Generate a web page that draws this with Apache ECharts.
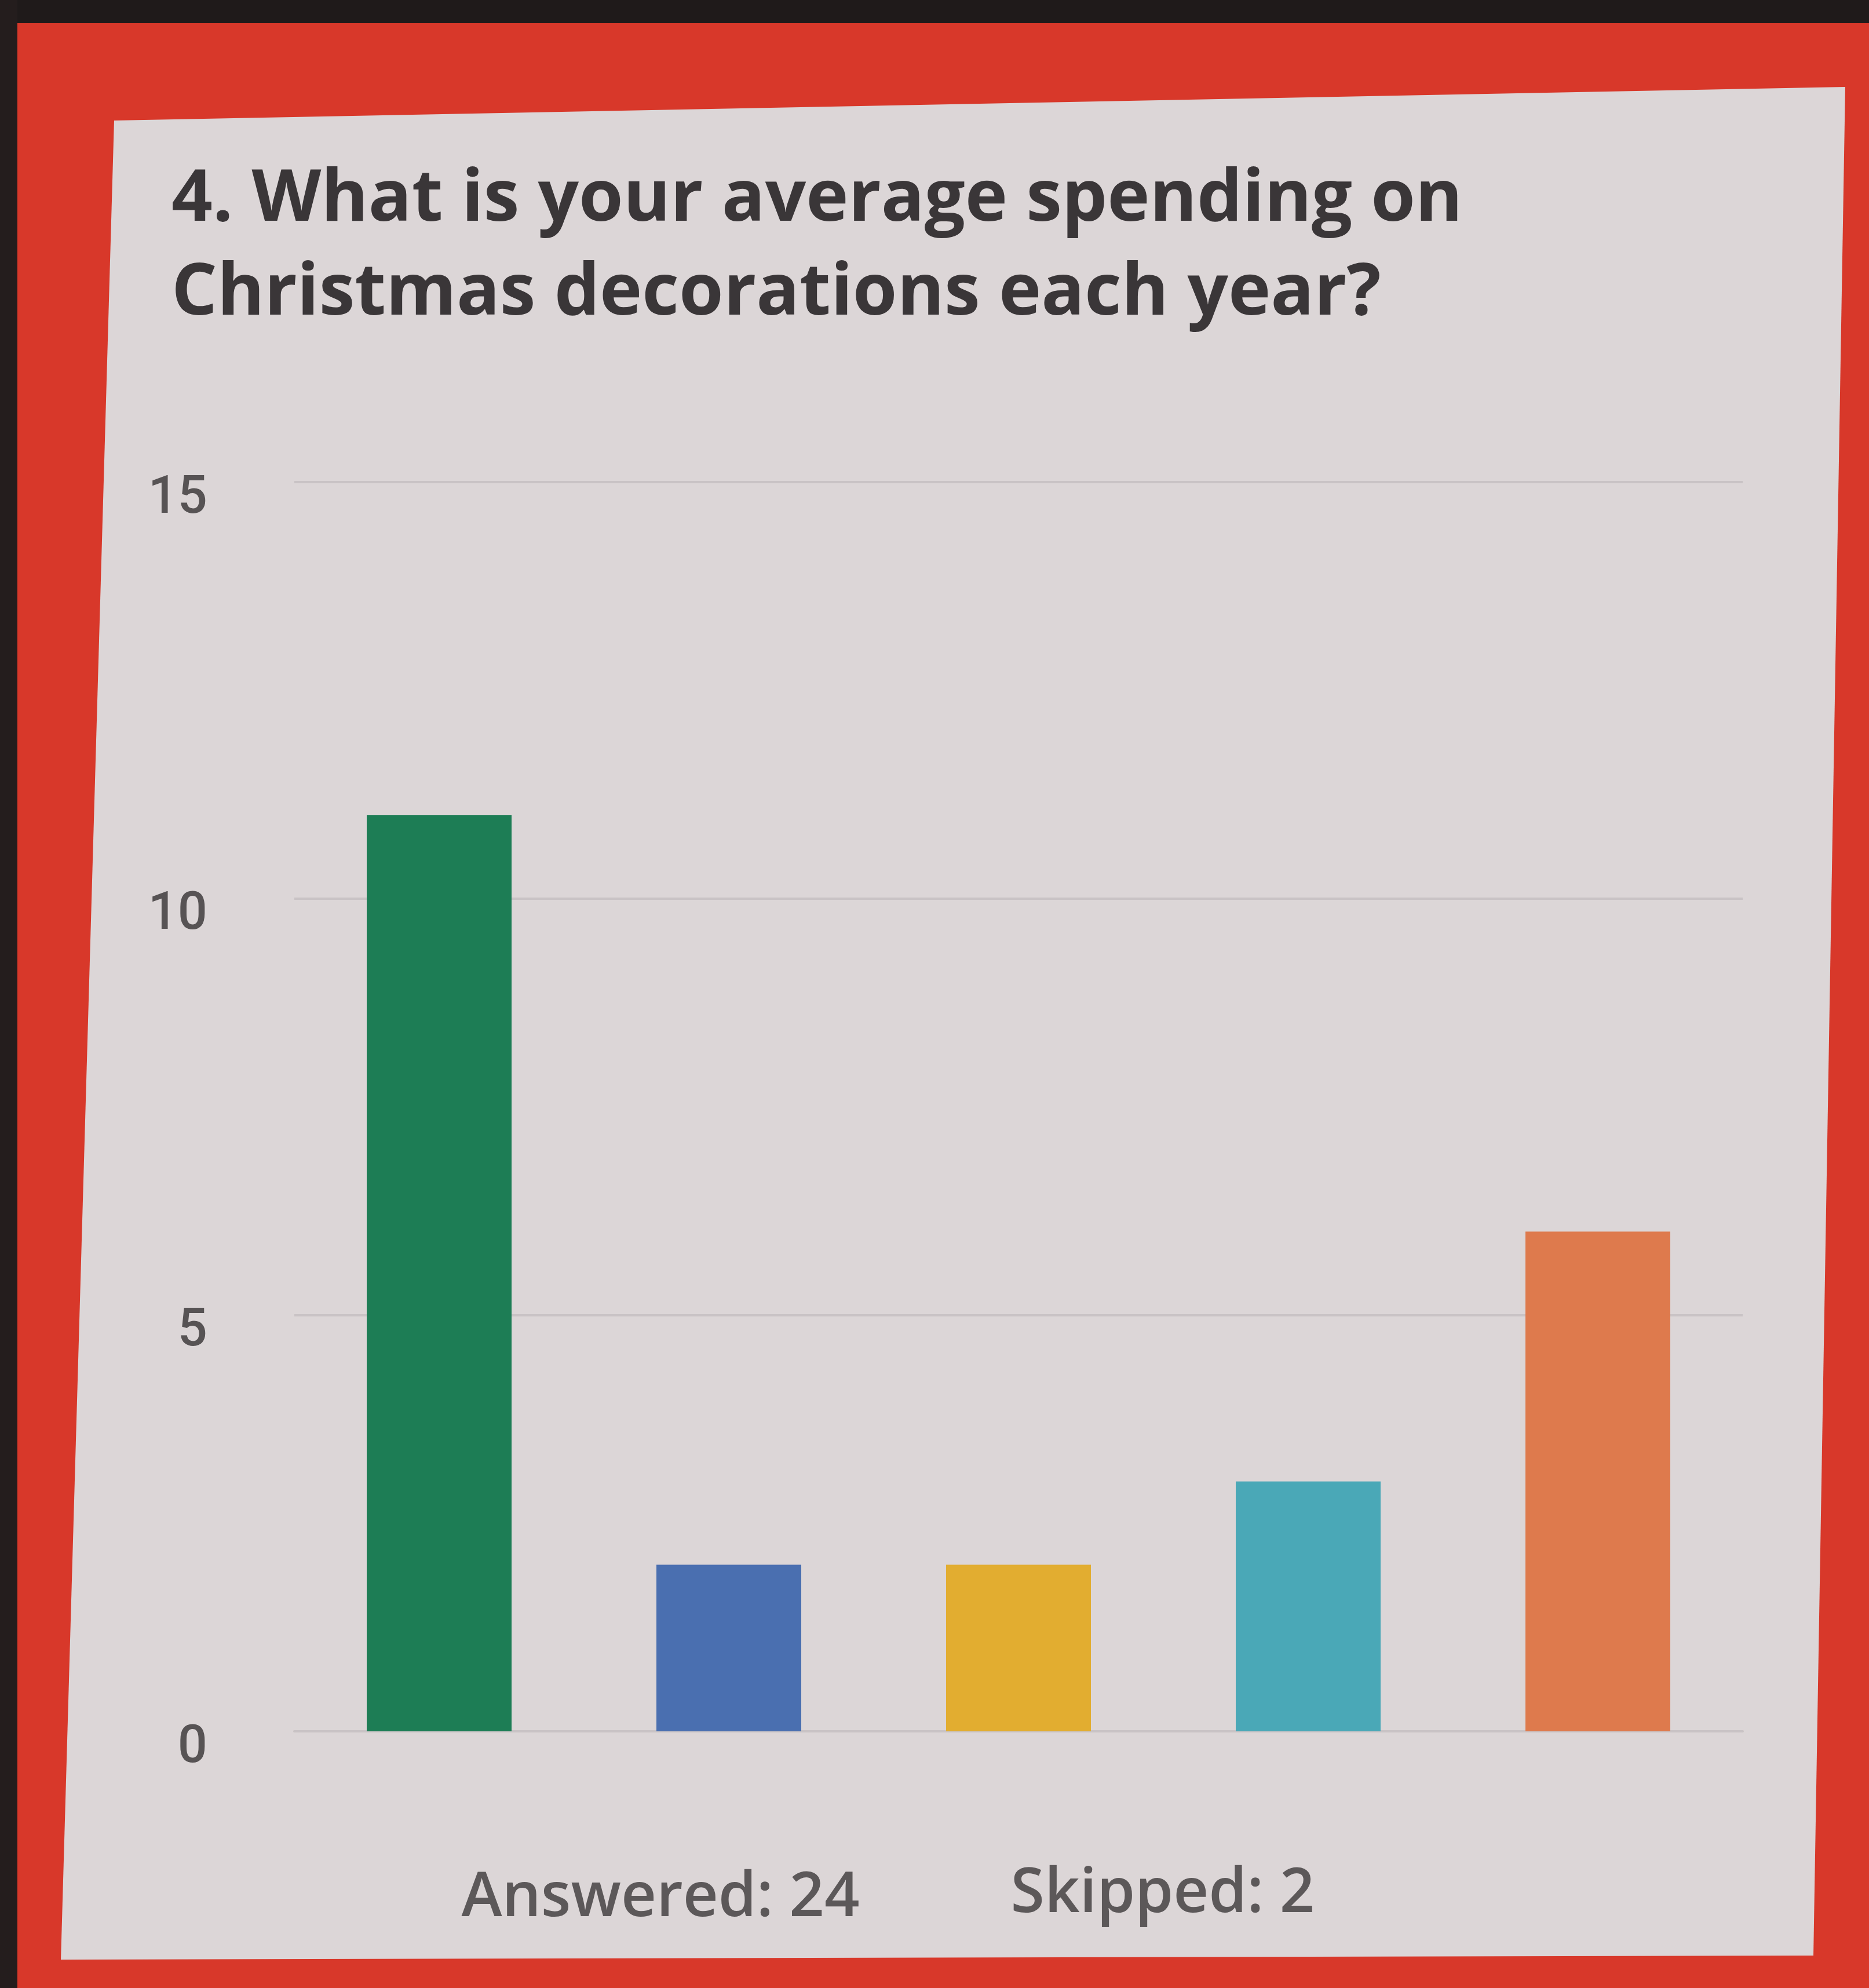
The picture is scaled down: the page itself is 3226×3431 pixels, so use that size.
<!DOCTYPE html>
<html>
<head>
<meta charset="utf-8">
<script src="https://cdn.jsdelivr.net/npm/echarts@6/dist/echarts.min.js"></script>
<style>
html,body{margin:0;padding:0;background:#d8382a;}
#c{width:3226px;height:3431px;}
</style>
</head>
<body>
<div id="c"></div>
<script>
const categories = ['A', 'B', 'C', 'D', 'E'];
const values = [11, 2, 2, 3, 6];
const barColors = ['#1d7d55', '#4a6fb0', '#e2ad30', '#4aa8b7', '#de7a4d'];
const yTicks = [0, 5, 10, 15];
const titleLines = ['4. What is your average spending on', 'Christmas decorations each year?'];
const footer = ['Answered: 24', 'Skipped: 2'];

const chart = echarts.init(document.getElementById('c'), null, {renderer: 'canvas'});
chart.setOption({
  backgroundColor: '#d8382a',
  animation: false,
  graphic: [
    {type: 'rect', z: -10, shape: {x: 0, y: 0, width: 3226, height: 40}, style: {fill: '#1f1a1a'}},
    {type: 'rect', z: -10, shape: {x: 0, y: 0, width: 30, height: 3431}, style: {fill: '#241d1d'}},
    {type: 'polygon', z: -5, shape: {points: [[197, 208], [3185, 150], [3130, 3375], [105, 3382]]}, style: {fill: '#dcd6d7'}},
    {type: 'text', z: 10, style: {x: 296, y: 346, text: titleLines[0], font: '700 124px "Open Sans"', fill: '#3a3638', textVerticalAlign: 'middle', verticalAlign: 'middle'}},
    {type: 'text', z: 10, style: {x: 296, y: 508, text: titleLines[1], font: '700 124px "Open Sans"', fill: '#3a3638', textVerticalAlign: 'middle', verticalAlign: 'middle'}},
    {type: 'text', z: 10, style: {x: 1140, y: 3277, text: footer[0], font: '600 106px "Open Sans"', fill: '#5c5859', align: 'center', textAlign: 'center', verticalAlign: 'middle', textVerticalAlign: 'middle'}},
    {type: 'text', z: 10, style: {x: 2007, y: 3270, text: footer[1], font: '600 106px "Open Sans"', fill: '#5c5859', align: 'center', textAlign: 'center', verticalAlign: 'middle', textVerticalAlign: 'middle'}}
  ],
  grid: {left: 508, right: 218, top: 832, bottom: 3431 - 2988, containLabel: false},
  xAxis: {
    type: 'category',
    data: categories,
    axisLine: {show: true, lineStyle: {color: '#c9c3c5', width: 4}},
    axisTick: {show: false},
    axisLabel: {show: false}
  },
  yAxis: {
    type: 'value',
    min: 0, max: 15, interval: 5,
    axisLine: {show: false},
    axisTick: {show: false},
    splitLine: {lineStyle: {color: '#c9c3c5', width: 4}},
    axisLabel: {
      margin: 150,
      fontSize: 90,
      fontWeight: 500,
      fontFamily: 'Roboto',
      color: '#575354',
      verticalAlign: 'top',
      lineHeight: 60,
      formatter: v => yTicks.includes(v) ? String(v) : ''
    }
  },
  series: [{
    type: 'bar',
    data: values.map((v, i) => ({value: v, itemStyle: {color: barColors[i]}})),
    barWidth: '50%'
  }]
});
</script>
</body>
</html>
